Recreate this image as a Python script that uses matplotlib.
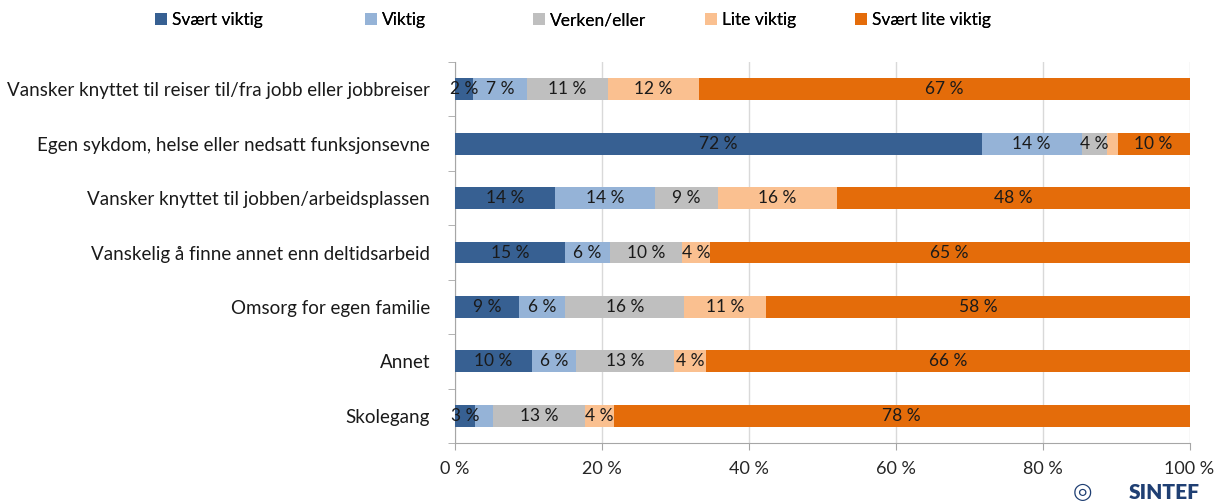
import matplotlib
matplotlib.use("Agg")
import matplotlib.pyplot as plt
import numpy as np

plt.rcParams['font.family'] = ['Lato', 'DejaVu Sans']

categories = [
    "Vansker knyttet til reiser til/fra jobb eller jobbreiser",
    "Egen sykdom, helse eller nedsatt funksjonsevne",
    "Vansker knyttet til jobben/arbeidsplassen",
    "Vanskelig å finne annet enn deltidsarbeid",
    "Omsorg for egen familie",
    "Annet",
    "Skolegang",
]
series_names = ["Svært viktig", "Viktig", "Verken/eller", "Lite viktig", "Svært lite viktig"]
svaert_viktig = [2.4, 71.7, 13.6, 15.0, 8.7, 10.5, 2.7]
viktig = [7.4, 13.6, 13.6, 6.1, 6.3, 6.0, 2.4]
verken_eller = [11.0, 3.5, 8.6, 9.8, 16.2, 13.3, 12.6]
lite_viktig = [12.4, 1.4, 16.2, 3.8, 11.2, 4.4, 3.9]
svaert_lite_viktig = [66.8, 9.8, 48.0, 65.3, 57.6, 65.8, 78.4]
# segments whose value label is not shown (category index, series index)
hidden_labels = [(1, 3), (6, 1)]
xtick_labels = ["0 %", "20 %", "40 %", "60 %", "80 %", "100 %"]

colors = ["#376092", "#95B3D7", "#BFBFBF", "#FAC090", "#E46C0A"]
data = [svaert_viktig, viktig, verken_eller, lite_viktig, svaert_lite_viktig]

fig = plt.figure(figsize=(12.2, 5.04), dpi=100)
ax = fig.add_axes([0.373, 0.121, 0.602, 0.756])

y = np.arange(len(categories))
left = np.zeros(len(categories))
handles = []
for si, (vals, col, name) in enumerate(zip(data, colors, series_names)):
    vals = np.array(vals)
    bars = ax.barh(y, vals, left=left, height=0.4, color=col, label=name, zorder=3)
    handles.append(bars)
    for ci, (v, l) in enumerate(zip(vals, left)):
        if (ci, si) in hidden_labels:
            continue
        ax.text(l + v / 2, ci, f"{int(round(v))} %", ha="center", va="center",
                fontsize=12.5, color="#1a1a1a", zorder=4)
    left += vals

ax.set_xlim(0, 100)
ax.set_ylim(len(categories) - 0.5, -0.5)
ax.set_xticks([0, 20, 40, 60, 80, 100])
ax.set_xticklabels(xtick_labels, fontsize=13, color="#262626")
ax.set_yticks(y)
ax.set_yticklabels(categories, fontsize=13.5, color="#1a1a1a")
ax.set_yticks(np.arange(-0.5, len(categories), 1), minor=True)
ax.tick_params(axis="y", which="major", length=0, pad=18)
ax.tick_params(axis="y", which="minor", length=5, color="#a6a6a6", direction="out")
ax.tick_params(axis="x", length=5, color="#a6a6a6", pad=8)
ax.xaxis.grid(True, color="#d9d9d9", linewidth=1, zorder=0)
for s in ["top", "right"]:
    ax.spines[s].set_visible(False)
for s in ["left", "bottom"]:
    ax.spines[s].set_color("#a6a6a6")

legend_x = [155, 365, 533, 705, 855]
for h, name, lx in zip(handles, series_names, legend_x):
    lg = fig.legend(handles=[h], labels=[name], loc="center left",
                    bbox_to_anchor=(lx / 1220, 1 - 20 / 504), frameon=False,
                    fontsize=12.5, handlelength=0.7, handleheight=0.7,
                    handletextpad=0.3, borderaxespad=0, borderpad=0)
    fig.add_artist(lg)

fig.text(1200 / 1220, 0.004, "SINTEF", ha="right", va="bottom", fontsize=15,
         fontweight="heavy", color="#1f3f73")
fig.text(1092 / 1220, 0.004, "◎", ha="right", va="bottom", fontsize=16,
         fontweight="bold", color="#1f3f73", family="DejaVu Sans")

fig.savefig("out.png", dpi=100)
